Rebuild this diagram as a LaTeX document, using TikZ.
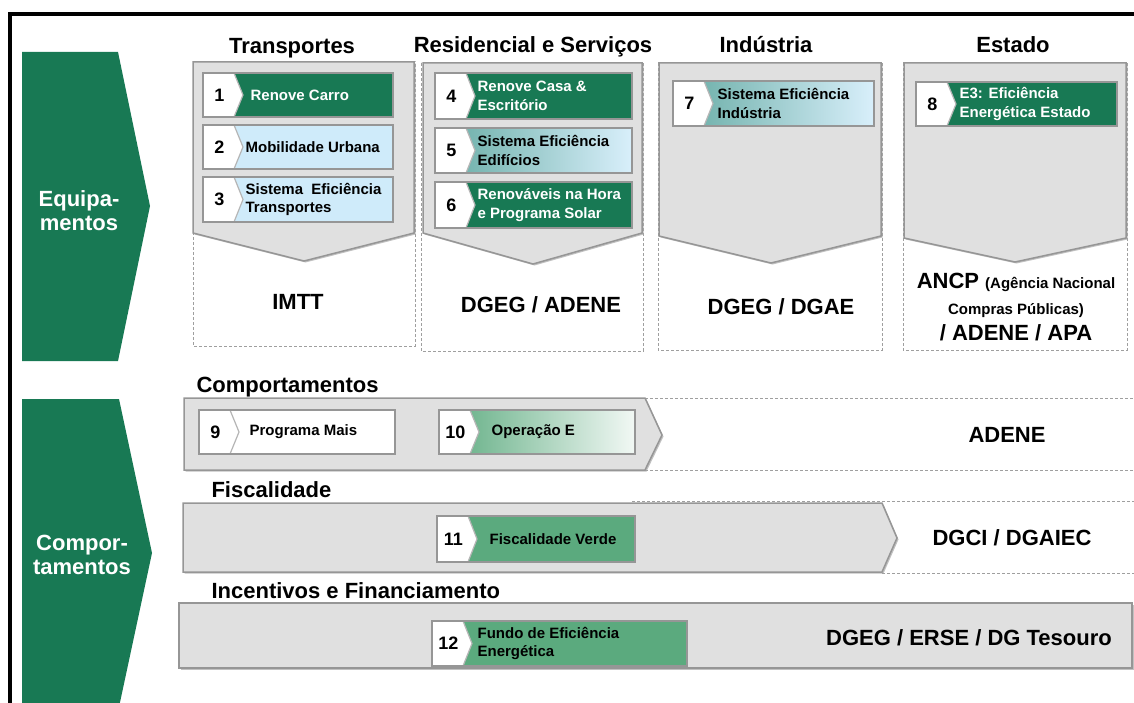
\documentclass[tikz,border=0pt]{standalone}
\usepackage{fontspec}
\setmainfont{Liberation Sans}
\usetikzlibrary{fit,shadows}
\definecolor{dkgreen}{RGB}{24,121,84}
\definecolor{mdgreen}{RGB}{91,170,126}
\definecolor{ltblue}{RGB}{207,235,250}
\definecolor{tealish}{RGB}{100,170,162}
\definecolor{boxgray}{RGB}{224,224,224}
\definecolor{edgegray}{RGB}{150,150,150}

\tikzset{
  prog/.style={draw=edgegray, line width=1.2, inner sep=0,
    path picture={\filldraw[fill=white, draw=edgegray!70] (path picture bounding box.north west) -- ([xshift=31]path picture bounding box.north west) -- ([xshift=40]path picture bounding box.west) -- ([xshift=31]path picture bounding box.south west) -- (path picture bounding box.south west);}},
  num/.style={font=\fontsize{18}{20}\selectfont\bfseries},
  ptext/.style={anchor=west, align=left, inner sep=0, font=\fontsize{15}{18.5}\selectfont\bfseries},
  ttl/.style={anchor=base, font=\fontsize{22}{26}\selectfont\bfseries},
  rowttl/.style={anchor=base west, font=\fontsize{22}{26}\selectfont\bfseries},
  agency/.style={align=center, font=\fontsize{22}{26}\selectfont\bfseries},
  side/.style={text=white, align=center, font=\fontsize{22}{24}\selectfont\bfseries},
  dashbox/.style={draw=gray!75, line width=1, dash pattern=on 3pt off 2pt},
  body/.style={fill=boxgray, draw=edgegray, line width=1.5, drop shadow={shadow xshift=1.5pt, shadow yshift=-1.5pt, fill=gray!70, opacity=.7}}
}

\newcommand{\prog}[7]{%
  \node[prog, #4, fit={#2 #3}] (#1) {};
  \node[num] (#1n) at ([xshift=17]#1.west) {#6};
  \node[ptext, #5] (#1t) at ([xshift=43]#1.west) {#7};}

\begin{document}
\begin{tikzpicture}[x=1pt, y=-1pt]
\useasboundingbox (0,0) rectangle (1134,703);
\draw[line width=4] (10,705) -- (10,14) -- (1136,14);

\fill[dkgreen] (22,52) -- (118,52) -- (150,206) -- (118,361) -- (22,361) -- cycle;
\fill[dkgreen] (22,399) -- (119,399) -- (152,553) -- (119,707) -- (22,707) -- cycle;
\node[side] (eq) at (79,211) {Equipa-\\mentos};
\node[side] (co) at (82,555) {Compor-\\tamentos};

\node[ttl] (tr) at (292,54) {Transportes};
\node[ttl] (res) at (533,53) {Residencial e Serviços};
\node[ttl] (ind) at (766,53) {Indústria};
\node[ttl] (est) at (1013,53) {Estado};

\draw[dashbox] (193,62) rectangle (415,346);
\draw[dashbox] (421,63) rectangle (643,351);
\draw[dashbox] (658,63) rectangle (882,350);
\draw[dashbox] (903,63) rectangle (1127,350);
\filldraw[body] (193,62) -- (414,62) -- (414,233) -- (304,261) -- (193,233) -- cycle;
\filldraw[body] (423,63) -- (642,63) -- (642,233) -- (533,264) -- (423,233) -- cycle;
\filldraw[body] (659,63) -- (881,63) -- (881,236) -- (771,263) -- (659,236) -- cycle;
\filldraw[body] (904,63) -- (1126,63) -- (1126,238) -- (1015,262) -- (904,238) -- cycle;

\prog{p1}{(203,73)}{(393,117)}{fill=dkgreen}{text=white, xshift=5}{1}{Renove Carro}
\prog{p2}{(203,125)}{(393,169)}{fill=ltblue}{}{2}{Mobilidade Urbana}
\prog{p3}{(203,177)}{(393,222)}{fill=ltblue}{}{3}{Sistema\ \ Eficiência\\Transportes}
\prog{p4}{(435,73)}{(632,119)}{fill=dkgreen}{text=white}{4}{Renove Casa \&\\Escritório}
\prog{p5}{(435,128)}{(632,173)}{left color=tealish, right color=ltblue!80}{}{5}{Sistema Eficiência\\Edifícios}
\prog{p6}{(435,182)}{(632,228)}{fill=dkgreen}{text=white}{6}{Renováveis na Hora\\e Programa Solar}
\prog{p7}{(673,81)}{(874,126)}{left color=tealish, right color=ltblue!80}{xshift=2}{7}{Sistema Eficiência\\Indústria}
\prog{p8}{(916,82)}{(1117,126)}{fill=dkgreen}{text=white, xshift=1}{8}{E3: Eficiência\\Energética Estado}

\node[agency] (imtt) at (298,302) {IMTT};
\node[agency] (dgeg1) at (541,305) {DGEG / ADENE};
\node[agency] (dgeg2) at (781,307) {DGEG / DGAE};
\node[agency] (ancp) at (1016,307) {ANCP {\fontsize{15}{18}\selectfont(Agência Nacional}\\{\fontsize{15}{18}\selectfont Compras Públicas)}\\/ ADENE / APA};

\node[rowttl] (comp) at (193,392) {Comportamentos};
\draw[dashbox] (645,398) -- (1134,398);
\draw[dashbox] (645,470) -- (1134,470);
\filldraw[body] (184,398) -- (645,398) -- (662,435) -- (645,470) -- (184,470) -- cycle;
\prog{p9}{(199,410)}{(395,454)}{fill=white}{xshift=8}{9}{Programa Mais}
\prog{p10}{(439,410)}{(635,454)}{left color=mdgreen, right color=white!92!mdgreen}{xshift=10}{10}{Operação E}
\node[agency] (adene) at (1007,435) {ADENE};

\node[rowttl] (fisc) at (208,497) {Fiscalidade};
\draw[dashbox] (632,501) -- (1134,501);
\draw[dashbox] (882,573) -- (1134,573);
\filldraw[body] (183,503) -- (882,503) -- (897,538) -- (882,572) -- (183,572) -- cycle;
\prog{p11}{(437,516)}{(635,562)}{fill=mdgreen}{xshift=10}{11}{Fiscalidade Verde}
\node[agency] (dgci) at (1012,538) {DGCI / DGAIEC};

\node[rowttl] (inc) at (208,598) {Incentivos e Financiamento};
\filldraw[body] (179,603) rectangle (1132,668);
\prog{p12}{(432,621)}{(687,666)}{fill=mdgreen}{xshift=3}{12}{Fundo de Eficiência\\Energética}
\node[agency] (dgeg3) at (969,638) {DGEG / ERSE / DG Tesouro};
\end{tikzpicture}
\end{document}
